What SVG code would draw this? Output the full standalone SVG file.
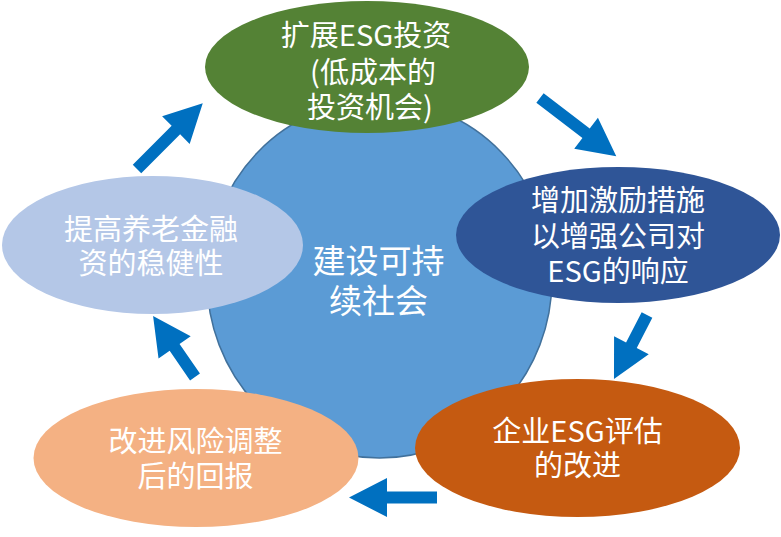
<svg xmlns="http://www.w3.org/2000/svg" width="781" height="537" viewBox="0 0 781 537">
<style>
.t{font-family:"Noto Sans CJK SC","Noto Sans",sans-serif;fill:#ffffff;text-anchor:middle;font-size:29px}
.c{font-size:33px}
.arr{fill:#0070C0}
</style>
<rect width="781" height="537" fill="#ffffff"/>
<g id="center">
<ellipse cx="379.5" cy="279" rx="172.5" ry="179" fill="#5B9BD5" stroke="#41719C" stroke-width="1.5"/>
<text class="t c" x="378.5" y="272.5">建设可持</text>
<text class="t c" x="378.5" y="312.5">续社会</text>
</g>
<g id="n1">
<ellipse cx="367" cy="67" rx="162" ry="66" fill="#548235"/>
<text class="t" x="366" y="46">扩展ESG投资</text>
<text class="t" x="373" y="83">(低成本的</text>
<text class="t" x="370" y="118">投资机会)</text>
</g>
<g id="n2">
<ellipse cx="618" cy="235" rx="162" ry="68" fill="#2F5597"/>
<text class="t" x="618" y="210.5">增加激励措施</text>
<text class="t" x="618" y="247">以增强公司对</text>
<text class="t" x="618" y="282">ESG的响应</text>
</g>
<g id="n3">
<ellipse cx="577.5" cy="448" rx="162.5" ry="69" fill="#C55A11"/>
<text class="t" x="577.5" y="441.5">企业ESG评估</text>
<text class="t" x="577.5" y="476">的改进</text>
</g>
<g id="n4">
<ellipse cx="196" cy="458" rx="162.5" ry="69" fill="#F4B183"/>
<text class="t" x="195.5" y="452">改进风险调整</text>
<text class="t" x="195.5" y="487">后的回报</text>
</g>
<g id="n5">
<ellipse cx="152.5" cy="245" rx="150.5" ry="69" fill="#B4C7E7"/>
<text class="t" x="151" y="239.5">提高养老金融</text>
<text class="t" x="151" y="274">资的稳健性</text>
</g>
<g id="connectors">
<polygon class="arr" transform="translate(540,98) rotate(37.4)" points="0,-6 58,-6 58,-19.5 96,0 58,19.5 58,6 0,6"/>
<polygon class="arr" transform="translate(647,315) rotate(117.3)" points="0,-6 34,-6 34,-19.5 72,0 34,19.5 34,6 0,6"/>
<polygon class="arr" transform="translate(437,497.5) rotate(180)" points="0,-6 50,-6 50,-19.5 88,0 50,19.5 50,6 0,6"/>
<polygon class="arr" transform="translate(195,377) rotate(235.5)" points="0,-6 36,-6 36,-19.5 74,0 36,19.5 36,6 0,6"/>
<polygon class="arr" transform="translate(137,169) rotate(-45)" points="0,-6 55,-6 55,-19.5 93,0 55,19.5 55,6 0,6"/>
</g>
</svg>
